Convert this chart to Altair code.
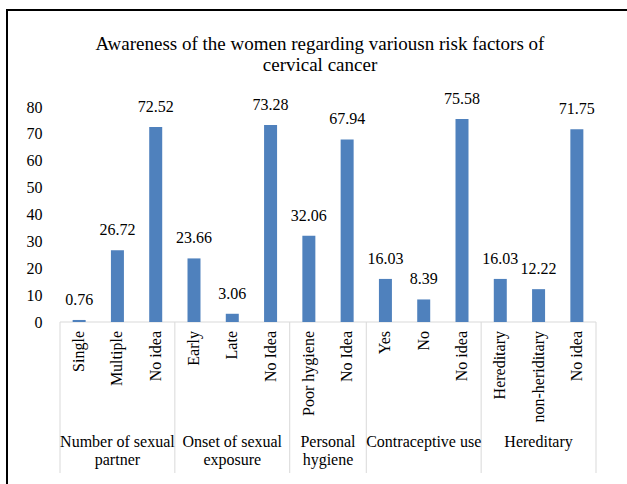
import altair as alt
import pandas as pd

title_lines = ["Awareness of the women regarding variousn risk factors of", "cervical cancer"]
groups = ["Number of sexual\npartner", "Onset of sexual\nexposure", "Personal\nhygiene",
          "Contraceptive use", "Hereditary"]
group_sizes = [3, 3, 2, 3, 3]
categories = ["Single", "Multiple", "No idea", "Early", "Late", "No Idea", "Poor hygiene",
              "No Idea", "Yes", "No", "No idea", "Hereditary", "non-heriditary", "No idea"]
values = [0.76, 26.72, 72.52, 23.66, 3.06, 73.28, 32.06, 67.94, 16.03, 8.39, 75.58,
          16.03, 12.22, 71.75]
y_ticks = [0, 10, 20, 30, 40, 50, 60, 70, 80]

FONT = "Liberation Serif"
BAR = "#4F81BD"
GRID = "#D9D9D9"
W, H = 546, 215

bars = pd.DataFrame({
    "pos": [i + 0.5 for i in range(len(categories))],
    "category": categories,
    "value": values,
    "label": [f"{v:.2f}" for v in values],
})

bounds_list = [0]
for n in group_sizes:
    bounds_list.append(bounds_list[-1] + n)
bounds = pd.DataFrame({"b": bounds_list})
grp = pd.DataFrame({
    "center": [(bounds_list[i] + bounds_list[i + 1]) / 2 for i in range(len(groups))],
    "group": groups,
})
axis_line = pd.DataFrame({"start": [0], "end": [len(categories)], "zero": [0]})
title_df = pd.DataFrame({"t": ["\n".join(title_lines)]})

xscale = alt.Scale(domain=[0, len(categories)], nice=False, zero=False)
yscale = alt.Scale(domain=[0, 80], nice=False)
yaxis = alt.Axis(values=y_ticks, grid=False, domain=False, ticks=False,
                 tickSize=0, labelPadding=13, labelFont=FONT,
                 labelFontSize=16, labelColor="#000000",
                 labelOverlap=False, labelBound=False, labelFlush=False, title=None)

bar_layer = alt.Chart(bars).mark_bar(color=BAR, size=13).encode(
    x=alt.X("pos:Q", scale=xscale, axis=None),
    y=alt.Y("value:Q", scale=yscale, axis=yaxis),
)

value_labels = alt.Chart(bars).mark_text(
    font=FONT, fontSize=16, color="#000000", dy=-15, baseline="alphabetic"
).encode(
    x=alt.X("pos:Q", scale=xscale, axis=None),
    y=alt.Y("value:Q", scale=yscale, axis=yaxis),
    text="label:N",
)

cat_labels = alt.Chart(bars).mark_text(
    font=FONT, fontSize=16, color="#000000", angle=270, align="right", baseline="middle"
).encode(
    x=alt.X("pos:Q", scale=xscale, axis=None),
    y=alt.value(H + 9),
    text="category:N",
)

group_labels = alt.Chart(grp).mark_text(
    font=FONT, fontSize=16, color="#000000", lineBreak="\n", lineHeight=18,
    baseline="alphabetic", align="center"
).encode(
    x=alt.X("center:Q", scale=xscale, axis=None),
    y=alt.value(H + 125),
    text="group:N",
)

separators = alt.Chart(bounds).mark_rule(color=GRID, strokeWidth=1).encode(
    x=alt.X("b:Q", scale=xscale, axis=None),
    y=alt.value(H),
    y2=alt.value(H + 151),
)

base_line = alt.Chart(axis_line).mark_rule(color=GRID, strokeWidth=1).encode(
    x=alt.X("start:Q", scale=xscale, axis=None),
    x2="end:Q",
    y=alt.Y("zero:Q", scale=yscale, axis=yaxis),
)

title_layer = alt.Chart(title_df).mark_text(
    font=FONT, fontSize=19, color="#000000", lineBreak="\n", lineHeight=21,
    align="center", baseline="alphabetic"
).encode(
    x=alt.value(265),
    y=alt.value(-57),
    text="t:N",
)

frame = alt.Chart(title_df).mark_rect(
    fill=None, stroke="#000000", strokeWidth=2
).encode(
    x=alt.value(-48), x2=alt.value(620), y=alt.value(-97), y2=alt.value(420)
)

chart = alt.layer(
    frame, separators, base_line, bar_layer, value_labels, cat_labels, group_labels, title_layer
).properties(
    width=W, height=H,
    autosize=alt.AutoSizeParams(type="none"),
    padding={"left": 55, "top": 107, "right": 26, "bottom": 162},
    background="white",
).configure_view(stroke=None)

chart.save("out.html", embed_options={"renderer": "svg", "actions": False})
